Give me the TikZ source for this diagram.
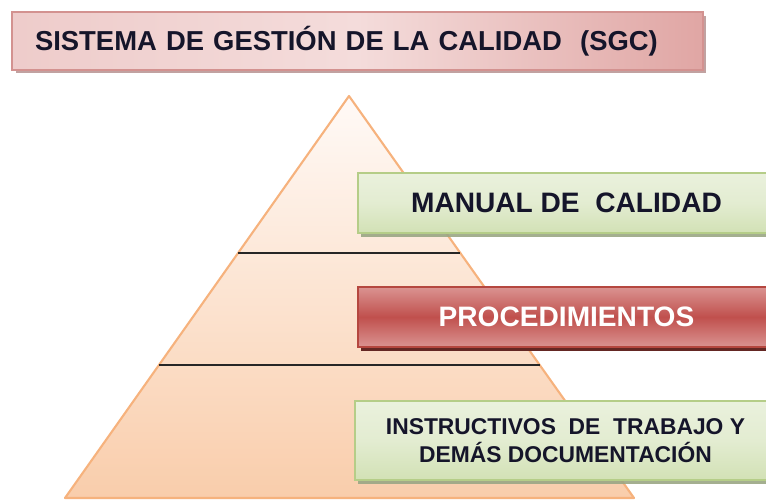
\documentclass[tikz,border=0pt]{standalone}
\usepackage{fontspec}
\setmainfont{Liberation Sans}
\usepackage{tikz}
\usetikzlibrary{calc,shadows,positioning}
\usepackage{xcolor}

\definecolor{roseline}{HTML}{D39290}
\definecolor{roseedge}{HTML}{E0A6A4}
\definecolor{roselight}{HTML}{F4DCDB}
\definecolor{greenline}{HTML}{B5CD88}
\definecolor{greentop}{HTML}{EAF1DD}
\definecolor{greenbot}{HTML}{D2E1B5}
\definecolor{redline}{HTML}{B5473F}
\definecolor{redmid}{HTML}{C0504D}
\definecolor{redlight}{HTML}{DA9391}
\definecolor{peachline}{HTML}{F6B27D}
\definecolor{peachtop}{HTML}{FFFAF7}
\definecolor{peachbot}{HTML}{F9CDAB}
\definecolor{inktext}{HTML}{15152A}

\begin{document}
\begin{tikzpicture}[x=0.02cm, y=0.02cm,
    titlebox/.style={rectangle, draw=roseline, line width=0.8pt,
        left color=roselight!70!roseedge, right color=roseedge, middle color=roselight,
        text width=12.9cm, inner xsep=0.46cm, minimum height=1.16cm, align=left,
        text=inktext, font=\fontsize{15.6}{19}\selectfont\bfseries,
        drop shadow={shadow xshift=0.07cm, shadow yshift=-0.07cm, fill=roseline!60!gray, opacity=0.8}},
    greenbox/.style={rectangle, draw=greenline, line width=0.8pt,
        top color=greentop, bottom color=greenbot, middle color=greentop!70!greenbot,
        minimum width=8.34cm, minimum height=1.2cm, align=center, text=inktext,
        drop shadow={shadow xshift=0.06cm, shadow yshift=-0.08cm, fill=greenline!50!gray, opacity=0.9}},
    redbox/.style={rectangle, draw=redline, line width=0.8pt,
        top color=redlight, bottom color=redlight, middle color=redmid,
        minimum width=8.34cm, minimum height=1.2cm, align=center, text=white,
        font=\fontsize{16}{19}\selectfont\bfseries,
        drop shadow={shadow xshift=0.06cm, shadow yshift=-0.09cm, fill=redline!55!black, opacity=1}},
    level/.style={line width=1.3pt, draw=black!85}
]
    \useasboundingbox (0,0) rectangle (766,501);

    % Pyramid
    \coordinate (apex) at (349,405);
    \coordinate (bl) at (65,3);
    \coordinate (br) at (634,3);
    \shade[top color=peachtop, bottom color=peachbot] (apex) -- (bl) -- (br) -- cycle;
    \draw[peachline, line width=1.2pt, line join=round] (apex) -- (bl) -- (br) -- cycle;

    % Levels
    \draw[level] ($(apex)!0.39!(bl)$) -- ($(apex)!0.39!(br)$);
    \draw[level] ($(apex)!0.669!(bl)$) -- ($(apex)!0.669!(br)$);

    % Title
    \node[titlebox] (sgc) at (357.5,460) {SISTEMA DE GESTIÓN DE LA CALIDAD \ (SGC)};

    % Manual
    \node[greenbox, font=\fontsize{16}{19}\selectfont\bfseries] (manual) at (566.5,298) {MANUAL DE \ CALIDAD};

    % Procedimientos
    \node[redbox] (proc) at (566.5,184) {PROCEDIMIENTOS};

    % Instructivos
    \node[greenbox, minimum width=8.42cm, minimum height=1.58cm,
          font=\fontsize{13}{16}\selectfont\bfseries] (instr) at (565.5,60.5)
        {INSTRUCTIVOS \ DE \ TRABAJO Y\\ DEMÁS DOCUMENTACIÓN};
\end{tikzpicture}
\end{document}
